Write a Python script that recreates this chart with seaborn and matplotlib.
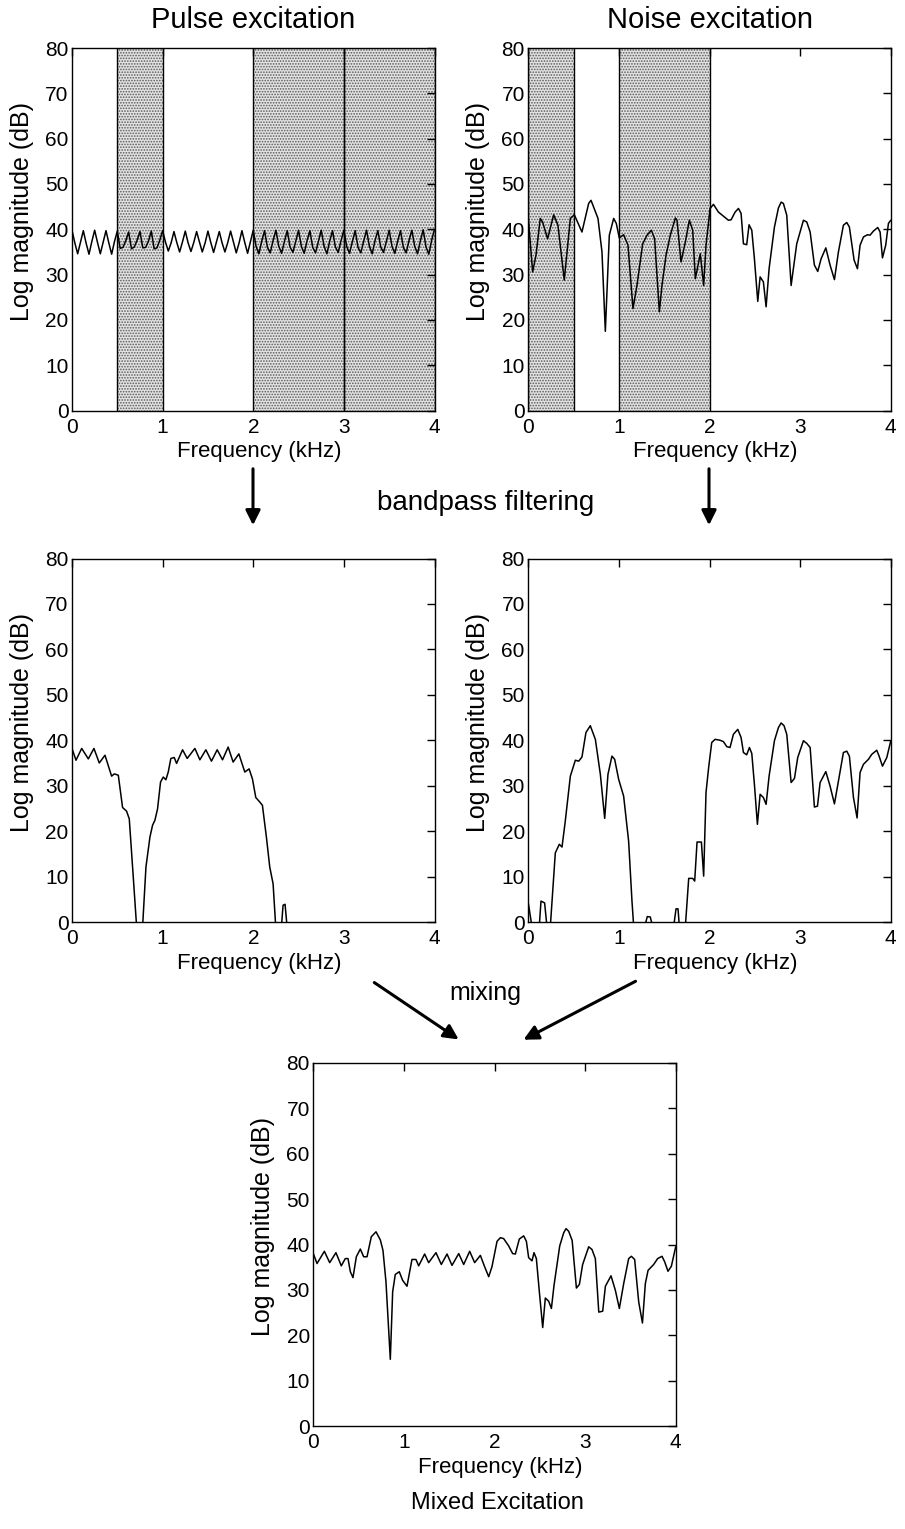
import numpy as np
import seaborn as sns
import matplotlib.pyplot as plt
from matplotlib.patches import FancyArrowPatch

# ---- data ----
# pulse excitation spectrum, 129 bins over 0-4 kHz
pulse_khz = np.linspace(0, 4, 129)
pulse_db = [
    39.8, 37.0, 34.6, 37.2, 39.7, 36.9, 34.5, 37.3, 39.8, 37.1, 34.6, 37.2, 39.7, 37.0, 34.5, 37.3,
    39.6, 35.8, 36.0, 37.5, 39.4, 35.7, 36.1, 37.6, 39.5, 35.9, 36.0, 37.4, 39.6, 35.7, 35.9, 37.6,
    39.7, 37.2, 35.2, 37.0, 39.5, 37.1, 35.0, 37.2, 39.6, 37.0, 35.1, 37.1, 39.5, 37.2, 35.0, 37.0,
    39.6, 37.1, 34.9, 37.2, 39.5, 37.0, 35.0, 37.1, 39.6, 37.2, 34.8, 37.0, 39.7, 37.1, 34.7, 37.2,
    39.8, 36.2, 34.6, 37.4, 39.7, 36.0, 34.8, 37.5, 39.8, 36.3, 34.7, 37.3, 39.7, 36.1, 34.9, 37.4,
    39.8, 36.2, 34.7, 37.5, 39.7, 36.0, 34.8, 37.3, 39.8, 36.3, 34.6, 37.4, 39.7, 36.1, 34.9, 37.5,
    39.8, 36.2, 34.7, 37.3, 39.7, 36.0, 34.8, 37.4, 39.8, 36.3, 34.6, 37.5, 39.7, 36.1, 34.9, 37.3,
    39.8, 36.2, 34.7, 37.4, 39.7, 36.0, 34.8, 37.5, 39.8, 36.3, 34.6, 37.4, 39.9, 36.1, 34.5, 37.6,
    40.0,
]

# noise excitation spectrum
noise_khz = [
    0.000, 0.048, 0.085, 0.132, 0.158, 0.213, 0.280, 0.327, 0.397, 0.464,
    0.508, 0.592, 0.666, 0.692, 0.769, 0.813, 0.850, 0.894, 0.942, 0.971,
    1.004, 1.052, 1.100, 1.155, 1.199, 1.262, 1.310, 1.358, 1.394, 1.446,
    1.475, 1.520, 1.567, 1.623, 1.641, 1.685, 1.733, 1.777, 1.814, 1.843,
    1.898, 1.935, 1.961, 2.006, 2.043, 2.098, 2.153, 2.208, 2.238, 2.282,
    2.319, 2.348, 2.374, 2.410, 2.436, 2.466, 2.495, 2.532, 2.558, 2.594,
    2.624, 2.657, 2.716, 2.760, 2.790, 2.815, 2.852, 2.900, 2.962, 3.036,
    3.073, 3.110, 3.157, 3.194, 3.231, 3.283, 3.330, 3.378, 3.422, 3.477,
    3.514, 3.543, 3.595, 3.632, 3.661, 3.698, 3.742, 3.771, 3.808, 3.856,
    3.882, 3.908, 3.944, 3.974, 4.000,
]
noise_db = [
    42.4, 30.6, 34.3, 42.4, 41.6, 37.9, 43.2, 40.9, 28.8, 42.4,
    43.2, 39.4, 45.7, 46.4, 42.4, 35.0, 17.5, 38.7, 42.4, 41.3,
    38.1, 38.8, 36.5, 22.5, 27.6, 36.8, 38.7, 39.8, 37.9, 21.8,
    27.6, 34.3, 38.7, 42.5, 42.0, 32.8, 37.2, 42.0, 39.8, 29.1,
    34.6, 27.6, 36.5, 44.6, 45.5, 43.8, 42.9, 42.0, 42.1, 43.8,
    44.6, 43.5, 36.8, 36.6, 41.0, 39.8, 33.5, 24.1, 29.5, 28.4,
    22.9, 31.3, 40.5, 44.7, 46.0, 45.7, 43.1, 27.6, 36.8, 42.0,
    41.6, 39.4, 32.1, 30.7, 33.5, 35.9, 32.1, 28.9, 35.0, 40.9,
    41.5, 40.5, 33.2, 31.3, 36.5, 38.3, 38.8, 38.7, 39.6, 40.4,
    39.4, 33.7, 36.5, 41.3, 42.0,
]

# bandpass filtered pulse
pfilt_khz = [
    0.000, 0.044, 0.107, 0.180, 0.242, 0.301, 0.364, 0.437, 0.467, 0.511,
    0.558, 0.602, 0.632, 0.676, 0.713, 0.779, 0.816, 0.860, 0.889, 0.915,
    0.944, 0.977, 1.007, 1.036, 1.062, 1.091, 1.128, 1.154, 1.220, 1.271,
    1.356, 1.411, 1.477, 1.539, 1.602, 1.661, 1.723, 1.778, 1.841, 1.907,
    1.954, 1.991, 2.028, 2.072, 2.101, 2.145, 2.182, 2.219, 2.248, 2.311,
    2.329, 2.351, 2.373, 4.000,
]
pfilt_db = [
    38.2, 35.6, 38.2, 35.9, 38.2, 35.0, 36.7, 32.1, 32.6, 32.3,
    25.2, 24.4, 22.7, 9.9, -1.0, -1.0, 12.1, 18.7, 21.3, 22.4,
    24.9, 30.8, 31.9, 31.3, 33.0, 36.0, 36.2, 34.9, 37.9, 36.0,
    38.2, 35.7, 37.9, 35.4, 37.9, 35.7, 38.5, 35.2, 37.0, 33.0,
    33.7, 31.5, 27.4, 26.4, 25.7, 18.7, 12.1, 8.4, -1.0, -1.0,
    3.7, 3.9, -1.0, -1.0,
]

# bandpass filtered noise
nfilt_khz = [
    0.000, 0.040, 0.121, 0.140, 0.180, 0.206, 0.243, 0.298, 0.342, 0.372,
    0.408, 0.464, 0.519, 0.556, 0.592, 0.636, 0.684, 0.740, 0.795, 0.843,
    0.879, 0.923, 0.953, 0.997, 1.052, 1.107, 1.144, 1.163, 1.284, 1.313,
    1.346, 1.372, 1.604, 1.630, 1.652, 1.667, 1.733, 1.770, 1.814, 1.836,
    1.862, 1.910, 1.935, 1.961, 1.990, 2.024, 2.061, 2.116, 2.153, 2.190,
    2.226, 2.263, 2.311, 2.348, 2.374, 2.410, 2.440, 2.466, 2.495, 2.528,
    2.558, 2.594, 2.624, 2.657, 2.716, 2.760, 2.790, 2.822, 2.852, 2.900,
    2.937, 2.973, 3.036, 3.073, 3.110, 3.157, 3.191, 3.220, 3.283, 3.330,
    3.378, 3.422, 3.477, 3.514, 3.543, 3.588, 3.628, 3.661, 3.698, 3.753,
    3.790, 3.845, 3.871, 3.908, 3.956, 4.000,
]
nfilt_db = [
    4.2, -1.0, -1.0, 4.6, 4.2, -1.0, -1.0, 15.2, 17.1, 16.5,
    22.2, 32.1, 35.6, 35.4, 36.3, 41.7, 43.2, 40.2, 32.5, 22.8,
    32.5, 36.5, 35.8, 31.4, 27.7, 17.8, 4.6, -1.0, -1.0, 1.2,
    1.1, -1.0, -1.0, 2.9, 2.9, -1.0, -1.0, 9.6, 9.6, 9.0,
    17.6, 17.6, 10.1, 28.5, 34.0, 39.5, 40.2, 40.0, 39.7, 38.6,
    38.4, 41.3, 42.4, 40.6, 37.3, 36.8, 38.4, 37.1, 30.3, 21.5,
    28.1, 27.4, 25.9, 32.1, 39.9, 42.8, 43.8, 43.2, 41.3, 30.7,
    31.6, 36.2, 39.9, 39.3, 38.4, 25.3, 25.5, 30.7, 33.1, 29.9,
    26.0, 31.0, 37.3, 37.6, 36.5, 27.4, 22.9, 32.9, 34.7, 35.8,
    36.9, 37.8, 36.5, 34.3, 36.2, 39.9,
]

# mixed excitation
mixed_khz = [
    0.000, 0.041, 0.122, 0.181, 0.250, 0.309, 0.353, 0.383, 0.409, 0.438,
    0.475, 0.519, 0.556, 0.593, 0.640, 0.692, 0.740, 0.769, 0.802, 0.850,
    0.876, 0.905, 0.949, 0.986, 1.034, 1.089, 1.133, 1.163, 1.229, 1.273,
    1.354, 1.413, 1.476, 1.531, 1.605, 1.660, 1.726, 1.781, 1.844, 1.891,
    1.936, 1.972, 2.028, 2.065, 2.101, 2.156, 2.200, 2.230, 2.274, 2.322,
    2.352, 2.377, 2.414, 2.436, 2.462, 2.495, 2.532, 2.561, 2.598, 2.628,
    2.657, 2.720, 2.764, 2.790, 2.819, 2.857, 2.904, 2.937, 2.973, 3.040,
    3.076, 3.113, 3.151, 3.194, 3.224, 3.286, 3.334, 3.378, 3.426, 3.481,
    3.511, 3.547, 3.592, 3.633, 3.665, 3.695, 3.757, 3.801, 3.849, 3.878,
    3.915, 3.952, 4.000,
]
mixed_db = [
    38.0, 35.8, 38.5, 36.0, 38.2, 35.3, 36.9, 36.9, 34.0, 32.7,
    37.3, 39.0, 37.3, 37.3, 41.7, 42.8, 41.0, 38.7, 31.8, 14.7,
    29.6, 33.4, 34.0, 32.1, 30.8, 36.7, 36.7, 35.3, 37.9, 36.0,
    38.2, 35.6, 37.9, 35.4, 38.0, 35.6, 38.5, 36.0, 37.6, 35.1,
    32.9, 35.1, 40.7, 41.5, 41.3, 39.7, 38.0, 37.9, 41.2, 41.9,
    40.7, 37.1, 36.4, 38.2, 36.9, 29.6, 21.7, 28.2, 27.5, 25.9,
    31.0, 39.7, 42.6, 43.5, 42.9, 40.9, 30.4, 31.2, 35.6, 39.5,
    38.9, 36.9, 25.1, 25.3, 30.8, 33.1, 29.9, 25.9, 31.4, 36.9,
    37.4, 36.7, 27.3, 22.7, 31.4, 34.3, 35.6, 36.9, 37.4, 36.2,
    34.1, 35.2, 39.5,
]

# stop bands drawn as stippled regions
pulse_bands = [(0.5, 1.0), (2.0, 3.0), (3.0, 4.0)]
noise_bands = [(0.0, 0.5), (1.0, 2.0)]

x_ticks = [0, 1, 2, 3, 4]
y_ticks = [0, 10, 20, 30, 40, 50, 60, 70, 80]

# ---- style ----
sns.set_theme(style="white")
plt.rcParams["font.family"] = ["Liberation Sans", "DejaVu Sans"]
plt.rcParams.update({
    "text.color": "black",
    "axes.labelcolor": "black",
    "xtick.color": "black",
    "ytick.color": "black",
    "hatch.linewidth": 0.8,
})

W, H = 905, 1529
fig = plt.figure(figsize=(W / 100, H / 100), dpi=100)


def axes_px(left, top, right, bottom):
    return fig.add_axes([left / W, 1 - bottom / H, (right - left) / W, (bottom - top) / H])


def style_axes(ax):
    ax.set_xlim(0, 4)
    ax.set_ylim(0, 80)
    ax.set_xticks(x_ticks)
    ax.set_yticks(y_ticks)
    ax.tick_params(direction="in", length=6, width=1, top=True, right=True,
                   labelsize=15, color="black")
    ax.tick_params(axis="x", pad=5)
    ax.tick_params(axis="y", pad=2.5)
    for s in ax.spines.values():
        s.set_color("black")
        s.set_linewidth(1.0)
    ax.set_xlabel("Frequency (kHz)", fontsize=16)
    ax.set_ylabel("Log magnitude (dB)", fontsize=18)
    ax.xaxis.set_label_coords(0.516, -0.085)
    ax.yaxis.set_label_coords(-0.105, 0.55)


def draw_bands(ax, bands):
    for a, b in bands:
        ax.axvspan(a, b, facecolor="#e2e2e2", edgecolor="#5a5a5a", hatch="......",
                   linewidth=0, zorder=0)
        ax.axvline(a, color="black", lw=1.0, zorder=1)
        ax.axvline(b, color="black", lw=1.0, zorder=1)


def trace(ax, x, y):
    sns.lineplot(x=x, y=y, ax=ax, color="black", linewidth=1.1,
                 estimator=None, sort=False, zorder=3)


ax1 = axes_px(72, 48, 434.5, 410.6)
draw_bands(ax1, pulse_bands)
trace(ax1, pulse_khz, pulse_db)
style_axes(ax1)

ax2 = axes_px(528.3, 48, 890.8, 410.6)
draw_bands(ax2, noise_bands)
trace(ax2, noise_khz, noise_db)
style_axes(ax2)

ax3 = axes_px(72, 558.5, 434.5, 922)
trace(ax3, pfilt_khz, pfilt_db)
style_axes(ax3)

ax4 = axes_px(528.3, 558.5, 890.8, 922)
trace(ax4, nfilt_khz, nfilt_db)
style_axes(ax4)

ax5 = axes_px(313.3, 1063, 675.7, 1426)
trace(ax5, mixed_khz, mixed_db)
style_axes(ax5)

# ---- titles and captions ----
def fig_text(x, y, s, size):
    fig.text(x / W, 1 - y / H, s, ha="center", va="center", fontsize=size)


fig_text(253, 20, "Pulse excitation", 21)
fig_text(710, 20, "Noise excitation", 21)
fig_text(486, 503, "bandpass filtering", 20)
fig_text(485, 993, "mixing", 18)
fig_text(497, 1503, "Mixed Excitation", 17)


def arrow(x0, y0, x1, y1):
    p = FancyArrowPatch((x0 / W, 1 - y0 / H), (x1 / W, 1 - y1 / H),
                        transform=fig.transFigure, arrowstyle="-|>",
                        mutation_scale=22, lw=2.2, color="black")
    fig.add_artist(p)


arrow(253, 466, 253, 528)
arrow(709, 466, 709, 528)
arrow(372, 981, 461, 1041)
arrow(638, 980, 521, 1041)

fig.savefig("out.png", dpi=100)
